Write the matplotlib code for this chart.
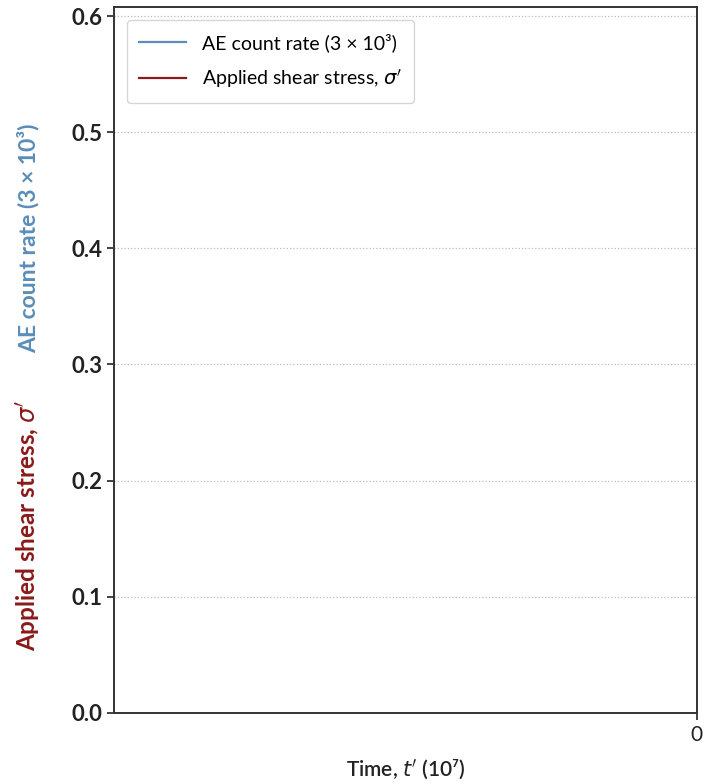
import matplotlib

matplotlib.use("Agg")

import matplotlib.pyplot as plt


# the source chart shows no data at all, only the empty axes
time_t = []
ae_count_rate = []
shear_stress = []

y_ticks = [0.0, 0.1, 0.2, 0.3, 0.4, 0.5, 0.6]
x_ticks = [0]

AE_COLOR = "#5b8db8"
STRESS_COLOR = "#8b1a1a"

plt.rcParams["font.family"] = ["Lato", "DejaVu Sans"]


def main():
    fig = plt.figure(figsize=(7.06, 7.84), dpi=100)
    ax = fig.add_axes([0.1615, 0.0906, 0.8255, 0.9004])

    ax.plot(time_t, ae_count_rate, color=AE_COLOR, lw=1.6, label="AE count rate (3 × 10³)")
    ax.plot(time_t, shear_stress, color=STRESS_COLOR, lw=1.6, label=r"Applied shear stress, $\sigma'$")

    ax.set_xlim(-1.0, 0.0)
    ax.set_ylim(0.0, 0.6077)
    ax.set_xticks(x_ticks)
    ax.set_xticklabels([str(v) for v in x_ticks], fontsize=15)
    ax.set_yticks(y_ticks)
    ax.set_yticklabels(["%.1f" % v for v in y_ticks], fontweight="bold", fontsize=16)
    ax.tick_params(length=5, width=1.2, colors="#222222")

    ax.grid(True, axis="y", linestyle=":", color="#bbbbbb", lw=0.9)
    for s in ax.spines.values():
        s.set_linewidth(1.4)
        s.set_color("#333333")

    # x label placed directly so it sits where the reference has it
    fig.text(0.574, 1 - 770 / 784, r"Time, $t'$ (10⁷)", fontsize=15, fontweight="semibold",
             ha="center", va="center", color="#222222")

    fig.text(0.04, 1 - 525 / 784, r"Applied shear stress, $\sigma'$", color=STRESS_COLOR,
             rotation=90, ha="center", va="center", fontsize=17.5, fontweight="bold")
    fig.text(0.04, 1 - 238 / 784, "AE count rate (3 × 10³)", color=AE_COLOR,
             rotation=90, ha="center", va="center", fontsize=16.5, fontweight="bold")

    ax.legend(loc="upper left", fontsize=14, frameon=True, handlelength=2.4,
              borderpad=0.65, labelspacing=0.8, bbox_to_anchor=(0.005, 0.995))

    fig.savefig("out.png", dpi=100)
    plt.close(fig)


if __name__ == "__main__":
    main()
